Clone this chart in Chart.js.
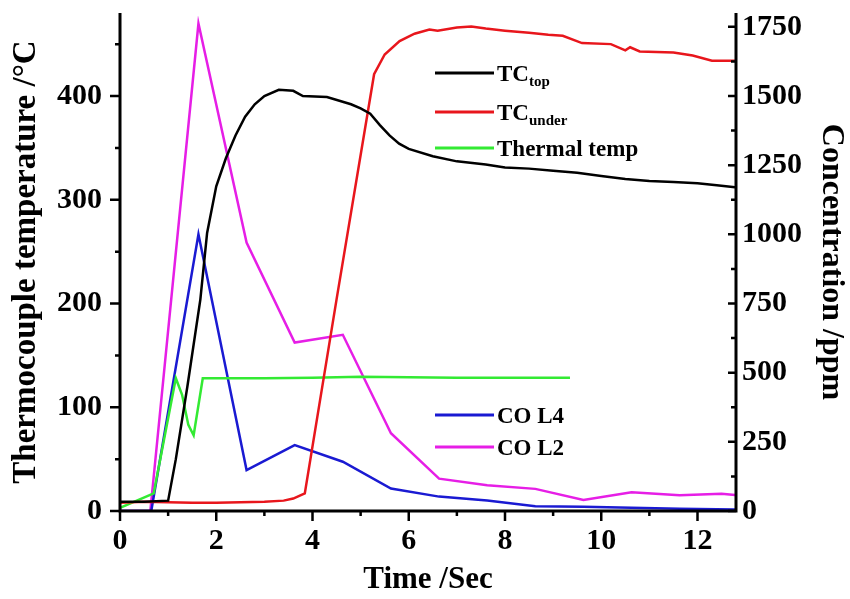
<!DOCTYPE html>
<html>
<head>
<meta charset="utf-8">
<script src="https://cdn.jsdelivr.net/npm/chart.js@4.4.1/dist/chart.umd.min.js"></script>
<style>
    body { margin: 0; background: #fff; }
    canvas { display: block; }
</style>
</head>
<body>
<canvas id="tempChart" width="850" height="599"></canvas>
<script>
// tick values
const xTicks = [0, 2, 4, 6, 8, 10, 12];
const tempTicks = [0, 100, 200, 300, 400];
const ppmTicks = [0, 250, 500, 750, 1000, 1250, 1500, 1750];

// TC top (left axis, °C)
const tcTopTime = [0, 0.5, 1.0, 1.16, 1.4, 1.67, 1.81, 2.0, 2.2, 2.4, 2.6, 2.8, 3.0, 3.3, 3.6, 3.8, 4.3, 4.8, 5.0, 5.2, 5.4, 5.6, 5.8, 6.0, 6.5, 7.0, 7.6, 8.0, 8.5, 9.0, 9.5, 10.0, 10.5, 11.0, 11.5, 12.0, 12.4, 12.78];
const tcTopTemp = [9, 9, 10, 50, 120, 204, 268, 313, 340, 362, 380, 392, 400, 406, 405, 400, 399, 392, 388, 383, 372, 362, 354, 349, 342, 337, 334, 331, 330, 328, 326, 323, 320, 318, 317, 316, 314, 312];

// TC under (left axis, °C)
const tcUnderTime = [0, 0.5, 1.0, 1.5, 2.0, 2.5, 3.0, 3.4, 3.6, 3.84, 4.5, 5.28, 5.5, 5.81, 6.12, 6.43, 6.6, 7.0, 7.3, 7.6, 8.0, 8.5, 8.9, 9.2, 9.6, 10.2, 10.5, 10.6, 10.8, 11.5, 11.9, 12.3, 12.78];
const tcUnderTemp = [8, 9, 8.5, 8, 8, 8.5, 9, 10, 12, 17, 204, 421, 440, 453, 460, 464, 463, 466, 467, 465, 463, 461, 459, 458, 451, 450, 444, 447, 443, 442, 439, 434, 434];

// Thermal temp (left axis, °C)
const thermalTime = [0, 0.7, 1.16, 1.29, 1.42, 1.53, 1.72, 3.0, 4.0, 5.0, 6.0, 7.0, 8.0, 9.35];
const thermalTemp = [3, 17, 128, 112, 83, 73, 128, 128, 128.5, 129.5, 129, 128.5, 128.5, 128.5];

// CO L4 (right axis, ppm)
const coL4Time = [0, 0.65, 1.63, 2.63, 3.63, 4.63, 5.63, 6.63, 7.63, 8.63, 9.63, 10.63, 11.63, 12.78];
const coL4Ppm = [0, 0, 1000, 148, 238, 178, 81, 52, 38, 17, 15, 12, 8, 5];

// CO L2 (right axis, ppm)
const coL2Time = [0, 0.63, 1.63, 2.63, 3.63, 4.63, 5.63, 6.63, 7.63, 8.63, 9.63, 10.63, 11.63, 12.5, 12.78];
const coL2Ppm = [0, 0, 1762, 970, 609, 637, 281, 117, 93, 80, 40, 68, 57, 62, 58];

const FONT = '"Liberation Serif", "Times New Roman", serif';

function toPoints(xs, ys) {
    return xs.map((x, i) => ({ x: x, y: ys[i] }));
}

function lineSet(label, xs, ys, color, axis) {
    return {
        label: label,
        data: toPoints(xs, ys),
        borderColor: color,
        backgroundColor: color,
        borderWidth: 2.5,
        pointRadius: 0,
        showLine: true,
        fill: false,
        tension: 0,
        yAxisID: axis
    };
}

function useTicks(values) {
    return function(scale) {
        scale.ticks = values.map(v => ({ value: v }));
    };
}

// fixed axis sizes, no extra label padding
function fixSize(w, h) {
    return function(s) {
        if (w) s.width = w;
        if (h) s.height = h;
        s.paddingTop = 0;
        s.paddingBottom = 0;
        s.paddingLeft = 0;
        s.paddingRight = 0;
    };
}

// axis lines plus major/minor tick marks
const axisPlugin = {
    id: 'axisPlugin',
    afterDraw(chart) {
        const ctx = chart.ctx;
        const a = chart.chartArea;
        const sx = chart.scales.x, sl = chart.scales.yTemp, sr = chart.scales.yPpm;
        ctx.save();
        ctx.strokeStyle = '#000';
        ctx.lineCap = 'butt';
        ctx.lineWidth = 3;
        ctx.beginPath();
        ctx.moveTo(a.left, a.top); ctx.lineTo(a.left, a.bottom + 1.5);
        ctx.moveTo(a.left - 1.5, a.bottom); ctx.lineTo(a.right + 1.5, a.bottom);
        ctx.moveTo(a.right, a.top); ctx.lineTo(a.right, a.bottom + 1.5);
        ctx.stroke();

        function minors(vals, max) {
            const out = [];
            const step = vals[1] - vals[0];
            vals.forEach(v => { if (v + step / 2 <= max) out.push(v + step / 2); });
            return out;
        }
        ctx.lineWidth = 2.5;
        ctx.beginPath();
        xTicks.forEach(v => { const p = sx.getPixelForValue(v); ctx.moveTo(p, a.bottom); ctx.lineTo(p, a.bottom + 10); });
        minors(xTicks, sx.max).forEach(v => { const p = sx.getPixelForValue(v); ctx.moveTo(p, a.bottom); ctx.lineTo(p, a.bottom + 5); });
        tempTicks.forEach(v => { const p = sl.getPixelForValue(v); ctx.moveTo(a.left, p); ctx.lineTo(a.left - 10, p); });
        minors(tempTicks, sl.max).forEach(v => { const p = sl.getPixelForValue(v); ctx.moveTo(a.left, p); ctx.lineTo(a.left - 5, p); });
        ppmTicks.forEach(v => { const p = sr.getPixelForValue(v); ctx.moveTo(a.right, p); ctx.lineTo(a.right - 8, p); });
        minors(ppmTicks, sr.max).forEach(v => { const p = sr.getPixelForValue(v); ctx.moveTo(a.right, p); ctx.lineTo(a.right - 5, p); });
        ctx.stroke();
        ctx.restore();
    }
};

// legend with subscripts
const legendPlugin = {
    id: 'legendPlugin',
    afterDraw(chart) {
        const ctx = chart.ctx;
        const rows = [
            { ds: 0, main: 'TC', sub: 'top', y: 73 },
            { ds: 1, main: 'TC', sub: 'under', y: 112 },
            { ds: 2, main: 'Thermal temp', sub: '', y: 148 },
            { ds: 3, main: 'CO L4', sub: '', y: 415 },
            { ds: 4, main: 'CO L2', sub: '', y: 447 }
        ];
        ctx.save();
        rows.forEach(r => {
            ctx.strokeStyle = chart.data.datasets[r.ds].borderColor;
            ctx.lineWidth = 3;
            ctx.beginPath();
            ctx.moveTo(435, r.y);
            ctx.lineTo(494, r.y);
            ctx.stroke();
            ctx.fillStyle = '#000';
            ctx.textBaseline = 'alphabetic';
            ctx.font = 'bold 23px ' + FONT;
            ctx.fillText(r.main, 497, r.y + 8);
            if (r.sub) {
                const w = ctx.measureText(r.main).width;
                ctx.font = 'bold 15px ' + FONT;
                ctx.fillText(r.sub, 497 + w, r.y + 13);
            }
        });
        ctx.restore();
    }
};

const tickFont = { family: FONT, size: 30, weight: 'bold' };

new Chart(document.getElementById('tempChart').getContext('2d'), {
    type: 'scatter',
    data: {
        datasets: [
            lineSet('TC top', tcTopTime, tcTopTemp, '#000000', 'yTemp'),
            lineSet('TC under', tcUnderTime, tcUnderTemp, '#e8161c', 'yTemp'),
            lineSet('Thermal temp', thermalTime, thermalTemp, '#33ea33', 'yTemp'),
            lineSet('CO L4', coL4Time, coL4Ppm, '#1a1ad2', 'yPpm'),
            lineSet('CO L2', coL2Time, coL2Ppm, '#e61ee6', 'yPpm')
        ]
    },
    options: {
        responsive: false,
        devicePixelRatio: 1,
        animation: false,
        layout: { padding: { top: 13, left: 0, right: 0, bottom: 0 } },
        plugins: {
            legend: { display: false },
            tooltip: { enabled: false }
        },
        scales: {
            x: {
                type: 'linear',
                position: 'bottom',
                min: 0,
                max: 12.8,
                afterBuildTicks: useTicks(xTicks),
                afterFit: fixSize(0, 88),
                grid: { display: false, drawTicks: false },
                border: { display: false },
                ticks: { font: tickFont, color: '#000', padding: 12, maxRotation: 0 },
                title: { display: true, text: 'Time /Sec', color: '#000', font: { family: FONT, size: 31, weight: 'bold' }, padding: { top: 0, bottom: 0 } }
            },
            yTemp: {
                type: 'linear',
                position: 'left',
                min: 0,
                max: 480,
                afterBuildTicks: useTicks(tempTicks),
                afterFit: fixSize(120, 0),
                grid: { display: false, drawTicks: false },
                border: { display: false },
                ticks: { font: tickFont, color: '#000', padding: 18 },
                title: { display: true, text: 'Thermocouple temperature /°C', color: '#000', font: { family: FONT, size: 33, weight: 'bold' }, padding: { top: 7, bottom: 0 } }
            },
            yPpm: {
                type: 'linear',
                position: 'right',
                min: 0,
                max: 1800,
                afterBuildTicks: useTicks(ppmTicks),
                afterFit: fixSize(114, 0),
                grid: { display: false, drawTicks: false },
                border: { display: false },
                ticks: { font: tickFont, color: '#000', padding: 6, callback: v => String(v) },
                title: { display: true, text: 'Concentration /ppm', color: '#000', font: { family: FONT, size: 32, weight: 'bold' }, padding: { top: 0, bottom: 0 } }
            }
        }
    },
    plugins: [axisPlugin, legendPlugin]
});
</script>
</body>
</html>
